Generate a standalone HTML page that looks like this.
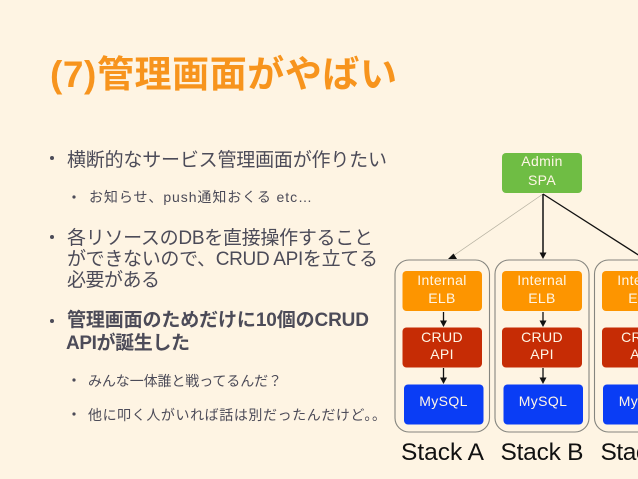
<!DOCTYPE html>
<html>
<head>
<meta charset="utf-8">
<style>
html,body{margin:0;padding:0;background:#fef4e3;width:638px;height:479px;overflow:hidden}
svg{display:block}
text{font-family:"Liberation Sans","Noto Sans CJK JP",sans-serif}
.b{fill:#4c4b58;font-size:19px}
.s{fill:#4c4b58;font-size:14px}
.w{fill:#fff6e6;font-size:14px;text-anchor:middle;letter-spacing:.35px}
.st{fill:#111;font-size:24.5px}
</style>
</head>
<body>
<svg width="638" height="479" viewBox="0 0 638 479" xmlns="http://www.w3.org/2000/svg">
<rect width="638" height="479" fill="#fef4e3"/>
<text x="50" y="87" font-size="37" font-weight="700" fill="#f7941d" textLength="347" lengthAdjust="spacing">(7)管理画面がやばい</text>

<circle cx="52" cy="158" r="2" fill="#4c4b58"/>
<text class="b" x="67" y="166" textLength="320" lengthAdjust="spacing">横断的なサービス管理画面が作りたい</text>
<circle cx="74" cy="197" r="1.6" fill="#4c4b58"/>
<text class="s" x="89" y="202" textLength="223" lengthAdjust="spacing">お知らせ、push通知おくる etc…</text>

<circle cx="52" cy="237" r="2" fill="#4c4b58"/>
<text class="b" x="67" y="244" textLength="306" lengthAdjust="spacing">各リソースのDBを直接操作すること</text>
<text class="b" x="67" y="265" textLength="311" lengthAdjust="spacing">ができないので、CRUD APIを立てる</text>
<text class="b" x="67" y="286" textLength="93" lengthAdjust="spacing">必要がある</text>

<circle cx="52" cy="321" r="2" fill="#4c4b58"/>
<text class="b" x="67" y="326" font-weight="700" textLength="302" lengthAdjust="spacing">管理画面のためだけに10個のCRUD</text>
<text class="b" x="66" y="349" font-weight="700" textLength="124" lengthAdjust="spacing">APIが誕生した</text>

<circle cx="74" cy="380" r="1.6" fill="#4c4b58"/>
<text class="s" x="88" y="386" textLength="194" lengthAdjust="spacing">みんな一体誰と戦ってるんだ？</text>
<circle cx="74" cy="414" r="1.6" fill="#4c4b58"/>
<text class="s" x="88" y="420" textLength="298" lengthAdjust="spacing">他に叩く人がいれば話は別だったんだけど。。</text>

<!-- containers -->
<g fill="none" stroke="#85857f" stroke-width="1.1">
<rect x="395" y="260" width="94.5" height="172" rx="14"/>
<rect x="495" y="260" width="94" height="172" rx="14"/>
<rect x="594.5" y="260" width="94" height="172" rx="14"/>
</g>

<!-- admin -->
<rect x="502" y="153" width="80" height="40" rx="4" fill="#6fbd44"/>
<text class="w" x="542" y="166">Admin</text>
<text class="w" x="542" y="185">SPA</text>

<!-- top connectors -->
<line x1="543" y1="194" x2="453" y2="256" stroke="#b5b0a0" stroke-width="0.7"/>
<path d="M453.5 253.5 L448 259 L457 259 Z" fill="#111"/>
<line x1="543" y1="194" x2="543" y2="254" stroke="#111" stroke-width="1.5"/>
<path d="M539.5 252.500 L546.500 252.500 L543 259 Z" fill="#111"/>
<line x1="543" y1="194" x2="640" y2="256" stroke="#111" stroke-width="1.3"/>

<!-- stack A -->
<rect x="402.500" y="271" width="79.500" height="40" rx="4" fill="#fd9500"/>
<text class="w" x="442" y="285">Internal</text>
<text class="w" x="442" y="303">ELB</text>
<rect x="402.500" y="327.500" width="79.500" height="40" rx="4" fill="#c62c05"/>
<text class="w" x="442" y="342">CRUD</text>
<text class="w" x="442" y="359">API</text>
<rect x="404" y="384.500" width="79.500" height="40" rx="4" fill="#0a3df5"/>
<text class="w" x="443.500" y="406">MySQL</text>
<line x1="443.500" y1="312" x2="443.500" y2="322" stroke="#111" stroke-width="1.300"/>
<path d="M440 320.500 L447 320.500 L443.500 327 Z" fill="#111"/>
<line x1="443.500" y1="368" x2="443.500" y2="379" stroke="#111" stroke-width="1.300"/>
<path d="M440 377.500 L447 377.500 L443.500 384 Z" fill="#111"/>

<!-- stack B -->
<rect x="502" y="271" width="80" height="40" rx="4" fill="#fd9500"/>
<text class="w" x="542" y="285">Internal</text>
<text class="w" x="542" y="303">ELB</text>
<rect x="502" y="327.500" width="80" height="40" rx="4" fill="#c62c05"/>
<text class="w" x="542" y="342">CRUD</text>
<text class="w" x="542" y="359">API</text>
<rect x="503.500" y="384.500" width="79.500" height="40" rx="4" fill="#0a3df5"/>
<text class="w" x="543" y="406">MySQL</text>
<line x1="543" y1="312" x2="543" y2="322" stroke="#111" stroke-width="1.300"/>
<path d="M539.500 320.500 L546.500 320.500 L543 327 Z" fill="#111"/>
<line x1="543" y1="368" x2="543" y2="379" stroke="#111" stroke-width="1.300"/>
<path d="M539.500 377.500 L546.500 377.500 L543 384 Z" fill="#111"/>

<!-- stack C -->
<rect x="602" y="271" width="80" height="40" rx="4" fill="#fd9500"/>
<text class="w" x="642" y="285">Internal</text>
<text class="w" x="642" y="303">ELB</text>
<rect x="602" y="327.500" width="80" height="40" rx="4" fill="#c62c05"/>
<text class="w" x="642" y="342">CRUD</text>
<text class="w" x="642" y="359">API</text>
<rect x="603" y="384.500" width="80" height="40" rx="4" fill="#0a3df5"/>
<text class="w" x="643" y="406">MySQL</text>

<text class="st" x="401" y="460" textLength="83" lengthAdjust="spacing">Stack A</text>
<text class="st" x="500.500" y="460" textLength="83" lengthAdjust="spacing">Stack B</text>
<text class="st" x="600.500" y="460" textLength="83" lengthAdjust="spacing">Stack C</text>
</svg>
</body>
</html>
